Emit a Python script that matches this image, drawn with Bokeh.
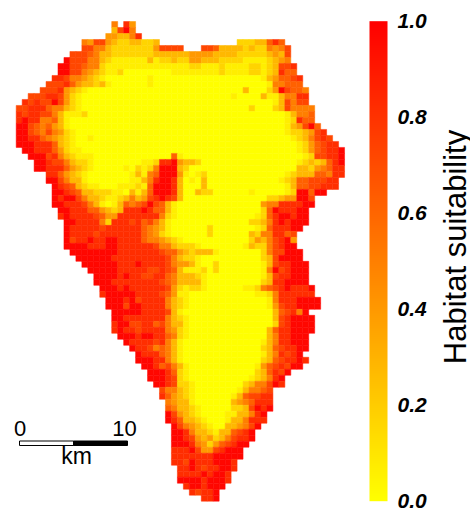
from bokeh.embed import file_html
from bokeh.resources import INLINE
from bokeh.plotting import figure
from bokeh.models import ColumnDataSource, LinearColorMapper, ColorBar, FixedTicker, Label, Range1d, PrintfTickFormatter
from bokeh.transform import transform

TICKS = [0.0, 0.2, 0.4, 0.6, 0.8, 1.0]
TITLE = "Habitat suitability"
SCALE_KM = [0, 5, 10]
# suitability read for each digit used in the rows below
SUITABILITY = [0.0, 0.07, 0.17, 0.28, 0.40, 0.50, 0.62, 0.72, 0.82, 0.97]
# (row, first column, coastal levels from the west, coastal levels to the east, end column); 0 between them
COAST = [
 (0,16,"5","",17),(0,18,"84","",20),(1,16,"3795","",20),(2,15,"443358","",21),
 (3,11,"5477432233223","",24),(3,37,"22233686","",45),
 (4,11,"77553222222247777","",28),(4,31,"776333323225457","",46),
 (5,9,"777653322222223","3333344443333222223437",46),
 (6,8,"977755321111113122","32244333222211112345",46),
 (7,7,"9977655211111111111","111221112111122123778",47),
 (8,7,"99775432112","111111112111122123866",47),
 (9,6,"887554321","1346678",48),
 (10,5,"77786433231","155666",48),
 (11,4,"77784321","2497665",49),
 (12,2,"777887421","1135588",49),
 (13,1,"8787797421","137577",49),
 (14,0,"77888655321","2375555",50),
 (15,0,"87887753111","13556",50),
 (16,0,"898855631","12866",50),
 (17,0,"997656431","134796",51),
 (18,0,"9976575421","1223478",52),
 (19,0,"9988654321","1235787",53),
 (20,0,"9998886321","1246788",54),
 (21,1,"9988864211","12467889",55),
 (22,2,"99978532111"+"0000000000000"+"61","1277889",55),
 (23,3,"9987753221"+"00000000"+"112"+"8894332","12323689",55),
 (24,3,"9988864321"+"00000"+"10212"+"5"+"999"+"32","33245688",55),
 (25,5,"8864321"+"0000000"+"13156"+"999"+"41012","1233366588",55),
 (26,5,"9975331"+"0000000"+"11358"+"998"+"30103","1236677788",54),
 (27,6,"98763211"+"000"+"111"+"216"+"99983"+"000"+"3","136677888",54),
 (28,6,"9987633222110"+"3136"+"99983"+"00"+"322","1299699",52),
 (29,6,"9899753321123534789873","22344997",50),
 (30,6,"998887531013656797631","455888899",50),
 (31,7,"99888664323888986631","26988899",49),
 (32,7,"89888876448888888521","126899899",49),
 (33,8,"998888528887867531","2235898999",49),
 (34,8,"988888788888865431","12688899",48),
 (35,8,"988887888888865421","32558867",47),
 (36,8,"97889889988886554321","24357894",47),
 (37,8,"99998889988888875532221","132257899",47),
 (38,9,"99999999"+"8888888"+"7"+"66"+"43"+"23331","2577999",48),
 (39,10,"999999"+"888888888"+"753221","2379999",48),
 (40,11,"999999"+"888"+"9"+"8888"+"75"+"443"+"1","13788999",49),
 (41,12,"99999"+"88888"+"77"+"876"+"3"+"111"+"2","15978999",49),
 (42,13,"9999"+"89887788"+"65"+"33321","13788999",49),
 (43,13,"999"+"88888888"+"765"+"3333"+"1","23889999",49),
 (44,14,"999"+"89"+"888888"+"74"+"21221","112567898889",50),
 (45,14,"8"+"99999"+"8888"+"76"+"411","1125888888",50),
 (46,15,"99989788885321","158889999",51),
 (47,15,"99979988885321","147889999",51),
 (48,16,"999998888731","367859",49),
 (49,16,"9988888885321","3789999",50),
 (50,16,"8997788675331","2789999",50),
 (51,16,"8988788885421","36889999",50),
 (52,17,"999899886521","3588999",49),
 (53,18,"9888878531","13588999",49),
 (54,19,"988756531","23678899",49),
 (55,20,"98886531","1358789",48),
 (56,20,"99988531","23678898",49),
 (57,21,"99867531","14678799",48),
 (58,22,"9998621","236879",46),
 (59,22,"9998721","123589",45),
 (60,23,"9987221","2355798",45),
 (61,24,"755321","135567",43),
 (62,24,"864321","1367788",43),
 (63,25,"54331","3456888",43),
 (64,25,"653321","2237989",43),
 (65,25,"974321","1133589",42),
 (66,25,"9863321","1335888",42),
 (67,26,"9754321","334579",41),
 (68,26,"99853321","336789",40),
 (69,26,"99874342","3357889",40),
 (70,26,"99985424","67899",39),
 (71,26,"888974478999","",38),
 (72,26,"888888899999","",38),
 (73,26,"88798889998","",37),
 (74,27,"8898788998","",37),
 (75,27,"888898998","",36),
 (76,27,"999989998","",36),
 (77,28,"8998999","",35),
 (78,29,"87889","",34),
 (79,31,"889","",34),
]
# isolated inland cells (row, column, level)
SPECKS = [(8,17,2),(9,22,1),(10,22,1),(15,11,2),(19,12,1),(11,38,3),(12,41,3),(14,39,2),
          (12,36,1),(28,39,1),(34,32,2),(35,32,2),(40,33,2),(41,33,2)]

cells = {}
for row, start, west, east, end in COAST:
    for col in range(start, end):
        if col - start < len(west):
            level = int(west[col - start])
        elif col >= end - len(east):
            level = int(east[col - (end - len(east))])
        else:
            level = 0
        cells[(row, col)] = level
for row, col, level in SPECKS:
    cells[(row, col)] = level

src = ColumnDataSource(dict(
    col=[k[1] for k in cells], col1=[k[1] + 1 for k in cells],
    row=[k[0] for k in cells], row1=[k[0] + 1 for k in cells],
    suit=[SUITABILITY[v] for v in cells.values()]))

palette = ["#%02x%02x00" % (255, 255 - i) for i in range(256)]
mapper = LinearColorMapper(palette=palette, low=0, high=1)

W, H = 470, 509
CW, CH = 5.97, 5.996
X0, Y0 = 15.7, 21.0
p = figure(width=W, height=H, output_backend="svg", toolbar_location=None,
           x_range=Range1d(-X0 / CW, (W - X0) / CW),
           y_range=Range1d((H - Y0) / CH, -Y0 / CH),
           min_border=0, outline_line_color=None)
p.axis.visible = False
p.grid.visible = False
p.quad(left="col", right="col1", top="row", bottom="row1", source=src,
       fill_color=transform("suit", mapper), line_color=transform("suit", mapper), line_width=0.5)

def col_of(px): return (px - X0) / CW
def row_of(py): return (py - Y0) / CH
km_px = (127 - 19) / SCALE_KM[-1]
p.quad(left=[col_of(19 + km_px * SCALE_KM[0]), col_of(19 + km_px * SCALE_KM[1])],
       right=[col_of(19 + km_px * SCALE_KM[1]), col_of(19 + km_px * SCALE_KM[2])],
       top=[row_of(440.5)] * 2, bottom=[row_of(445)] * 2,
       fill_color=["white", "black"], line_color="black", line_width=1)

FONT = "Liberation Sans"
def sy(py): return H - py
for txt, cx in [("0", 19.5), ("10", 124)]:
    p.add_layout(Label(x=cx, y=sy(428), x_units="screen", y_units="screen", text=txt,
                       text_font=FONT, text_font_size="22px", text_align="center",
                       text_baseline="alphabetic", text_color="black"))
p.add_layout(Label(x=76, y=sy(455), x_units="screen", y_units="screen", text="km",
                   text_font=FONT, text_font_size="23px", text_align="center",
                   text_baseline="alphabetic", text_color="black"))

cb = ColorBar(color_mapper=mapper, ticker=FixedTicker(ticks=TICKS),
              formatter=PrintfTickFormatter(format="%.1f"),
              width=18, height=480, location=(369, sy(500.7)), padding=0, margin=0,
              major_tick_line_color=None, minor_tick_line_color=None, bar_line_color=None,
              background_fill_color=None, border_line_color=None,
              major_label_text_font=FONT, major_label_text_font_style="bold italic",
              major_label_text_font_size="21px", major_label_text_color="black", label_standoff=10)
p.add_layout(cb, "center")

p.add_layout(Label(x=454.5, y=sy(246.5), x_units="screen", y_units="screen", text=TITLE,
                   angle=90, angle_units="deg", text_font=FONT, text_font_size="31px",
                   text_align="center", text_baseline="alphabetic", text_color="black"))

open("out.html", "w").write(file_html(p, INLINE))
